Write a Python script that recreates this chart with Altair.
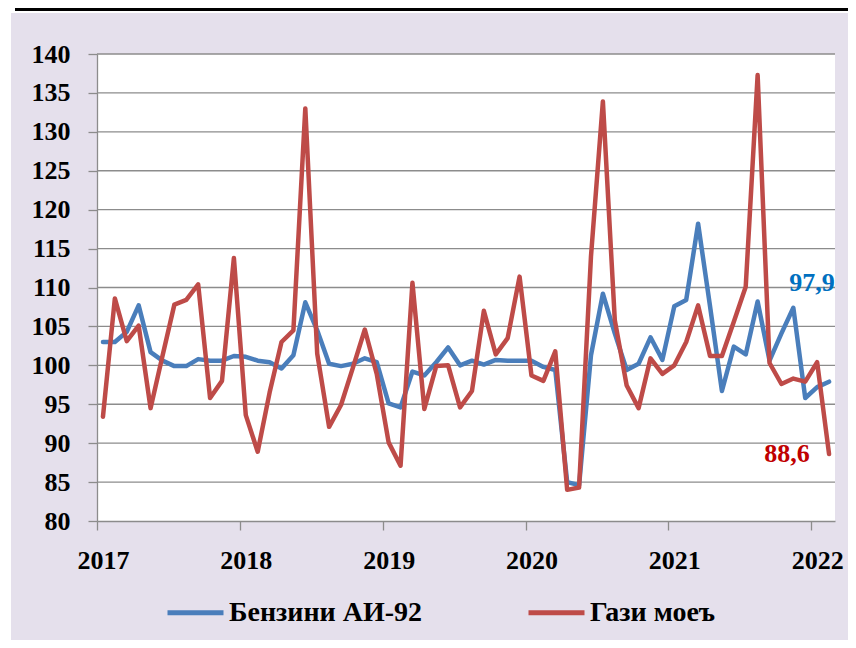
import altair as alt
import pandas as pd

years = ["2017", "2018", "2019", "2020", "2021", "2022"]
series_names = ["Бензини АИ-92", "Гази моеъ"]

benzini = [103.0, 103.0, 104.3, 107.7, 101.7, 100.6, 99.9, 99.9, 100.8, 100.6, 100.6, 101.2,
           101.1, 100.6, 100.4, 99.6, 101.3, 108.1, 104.5, 100.2, 99.9, 100.2, 100.9, 100.4,
           95.1, 94.6, 99.2, 98.7, 100.4, 102.3, 100.0, 100.6, 100.1, 100.7, 100.6, 100.6,
           100.6, 99.8, 99.4, 85.0, 84.6, 101.3, 109.2, 104.1, 99.4, 100.2, 103.6, 100.7,
           107.6, 108.4, 118.2, 107.6, 96.7, 102.4, 101.4, 108.2, 100.6, 104.1, 107.4, 95.8,
           97.2, 97.9]

gazi = [93.4, 108.6, 103.1, 105.1, 94.5, 101.2, 107.8, 108.4, 110.4, 95.8, 98.0, 113.8,
        93.6, 88.9, 96.5, 103.0, 104.5, 133.0, 101.5, 92.1, 94.9, 99.7, 104.6, 98.9,
        90.1, 87.1, 110.6, 94.4, 99.9, 100.0, 94.6, 96.7, 107.0, 101.4, 103.5, 111.4,
        98.7, 98.0, 101.8, 84.0, 84.3, 114.0, 133.9, 105.8, 97.4, 94.5, 100.9, 98.9,
        100.0, 103.0, 107.7, 101.2, 101.2, 105.6, 110.1, 137.3, 100.3, 97.6, 98.3, 97.9,
        100.4, 88.6]

y_ticks = [80, 85, 90, 95, 100, 105, 110, 115, 120, 125, 130, 135, 140]

BLUE = "#4A7EBB"
RED = "#BE4B48"
GRID = "#8C8C8C"
FONT = "'Liberation Serif', 'DejaVu Serif', serif"

n = len(benzini)
pos = [i + 0.5 for i in range(n)]
df_b = pd.DataFrame({"pos": pos, "value": benzini, "series": series_names[0]})
df_r = pd.DataFrame({"pos": pos, "value": gazi, "series": series_names[1]})
df_grid = pd.DataFrame({"value": y_ticks[1:]})


def lab(v):
    return f"{v:.1f}".replace(".", ",")


df_lb = pd.DataFrame({"pos": [pos[-1]], "value": [benzini[-1]], "label": [lab(benzini[-1])]})
df_lr = pd.DataFrame({"pos": [pos[-1]], "value": [gazi[-1]], "label": [lab(gazi[-1])]})

year_expr = "[" + ",".join(f"'{y}'" for y in years) + "][datum.value / 12]"

x_enc = alt.X(
    "pos:Q",
    scale=alt.Scale(domain=[0, n], nice=False, zero=False),
    axis=alt.Axis(
        values=[0, 12, 24, 36, 48, 60], labelExpr=year_expr, title=None, grid=False,
        domainColor=GRID, domainWidth=1.3, tickColor=GRID, tickWidth=1.3, tickSize=9,
        labelFont=FONT, labelFontSize=26, labelFontWeight="bold", labelColor="black",
        labelOffset=6, labelBaseline="alphabetic", labelPadding=38.6, labelFlush=False,
        labelOverlap=False, zindex=1,
    ),
)
y_enc = alt.Y(
    "value:Q",
    scale=alt.Scale(domain=[80, 140], nice=False, zero=False),
    axis=alt.Axis(
        values=y_ticks, title=None, grid=False,
        domainColor=GRID, domainWidth=1.3, tickColor=GRID, tickWidth=1.3, tickSize=9,
        labelFont=FONT, labelFontSize=26, labelFontWeight="bold", labelColor="black",
        labelPadding=18, labelBaseline="middle", labelFlush=False, labelOverlap=False,
        zindex=1,
    ),
)

legend = alt.Legend(
    orient="none", legendX=68, legendY=528, direction="horizontal", title=None,
    symbolType="stroke", symbolSize=3136, symbolStrokeWidth=5,
    labelFont=FONT, labelFontSize=28, labelFontWeight="bold", labelColor="black",
    labelOffset=3, labelLimit=500, columnPadding=95, padding=0,
)
color_enc = alt.Color(
    "series:N",
    scale=alt.Scale(domain=series_names, range=[BLUE, RED]),
    legend=legend,
)

one = alt.Data(values=[{"k": 1}])

outer_bg = alt.Chart(one).mark_rect(color="#E5E0EC").encode(
    x=alt.value(-86), x2=alt.value(751), y=alt.value(-41), y2=alt.value(586)
)
top_line = alt.Chart(one).mark_rule(color="black", strokeWidth=3).encode(
    x=alt.value(-82), x2=alt.value(751), y=alt.value(-44.5)
)
plot_bg = alt.Chart(one).mark_rect(color="white").encode(
    x=alt.value(0), x2=alt.value("width"), y=alt.value(0), y2=alt.value("height")
)
grid = alt.Chart(df_grid).mark_rule(color=GRID, strokeWidth=1.3).encode(
    y=y_enc, x=alt.value(0), x2=alt.value("width")
)

line_kw = dict(strokeWidth=4.5, strokeJoin="round", strokeCap="round")
blue_line = alt.Chart(df_b).mark_line(**line_kw).encode(x=x_enc, y=y_enc, color=color_enc)
red_line = alt.Chart(df_r).mark_line(**line_kw).encode(x=x_enc, y=y_enc, color=color_enc)

blue_text = alt.Chart(df_lb).mark_text(
    align="right", baseline="alphabetic", dx=5.6, dy=-90.8,
    font=FONT, fontSize=26, fontWeight="bold", color="#0070C0",
).encode(x=x_enc, y=y_enc, text="label:N")
red_text = alt.Chart(df_lr).mark_text(
    align="right", baseline="alphabetic", dx=-19.4, dy=7.9,
    font=FONT, fontSize=26, fontWeight="bold", color="#C00000",
).encode(x=x_enc, y=y_enc, text="label:N")

chart = alt.layer(
    outer_bg, top_line, plot_bg, grid, blue_line, red_line, blue_text, red_text
).properties(
    width=738, height=467,
    autosize=alt.AutoSizeParams(type="none"),
    padding={"left": 89, "top": 46, "right": 13, "bottom": 119},
    background="white",
).configure_view(stroke=None)

chart.save("out.html", embed_options={"renderer": "svg", "actions": False})
